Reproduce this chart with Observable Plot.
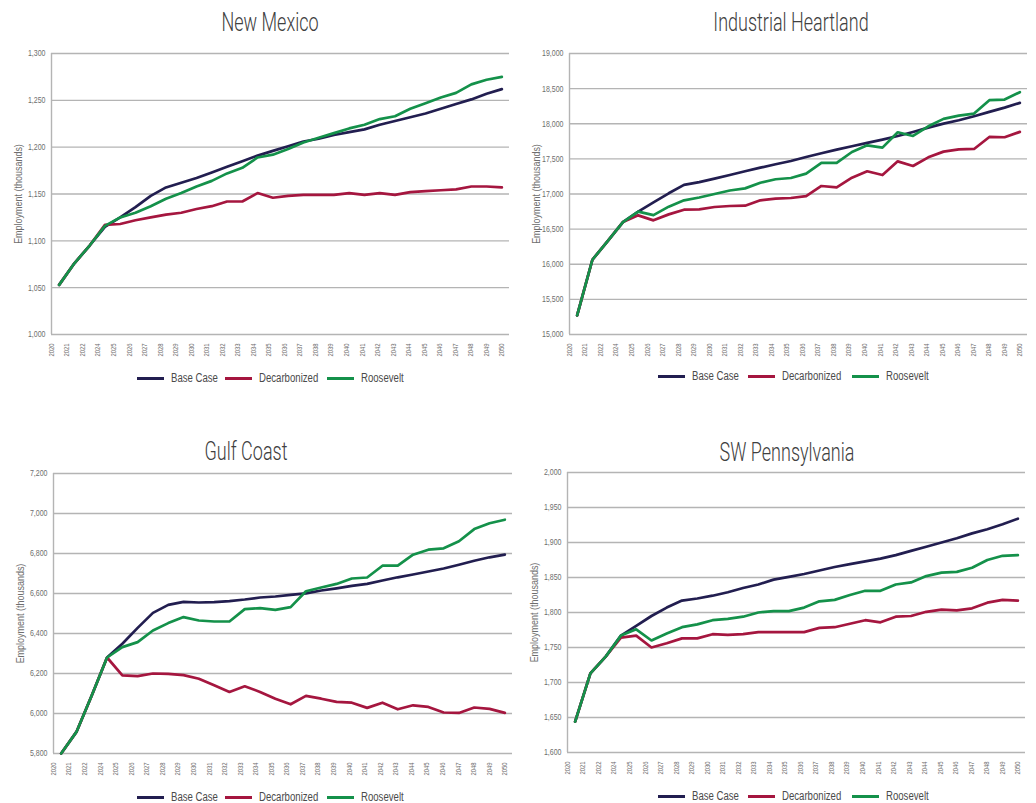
<!DOCTYPE html>
<html>
<head>
<meta charset="utf-8">
<script src="https://cdn.jsdelivr.net/npm/d3@7"></script>
<script src="https://cdn.jsdelivr.net/npm/@observablehq/plot@0.6"></script>
<style>
  body { margin: 0; background: #fff; }
  #root { position: relative; width: 1036px; height: 803px; overflow: hidden;
          font-family: "Liberation Sans", Arial, sans-serif; }
  .title { position: absolute; font-family: Roboto, "Liberation Sans", sans-serif; font-weight: 300;
           font-size: 25px; line-height: 25px; color: #404040;
           white-space: nowrap; transform: translateX(-50%) scaleX(0.72); }
  .panel { position: absolute; }
  .leg { position: absolute; display: flex; align-items: center;
         line-height: 14px; white-space: nowrap; transform: translateY(-50%); }
  .leg i { display: inline-block; width: 27px; height: 3px; margin-right: 7px; }
  .leg span { display: inline-block; font-size: 12px; color: #4a4a4a;
              transform: scaleX(0.8); transform-origin: left center; }
</style>
</head>
<body>
<div id="root"></div>
<script>
// Category labels along the x axis (the source table has no 2023 label)
const years = ["2020","2021","2022","2024","2025","2026","2027","2028","2029","2030",
               "2031","2032","2033","2034","2035","2036","2037","2038","2039","2040",
               "2041","2042","2043","2044","2045","2046","2047","2048","2049","2050"];

const series = ["Base Case", "Decarbonized", "Roosevelt"];
const seriesColors = ["#221e50", "#a5163f", "#14914a"];

// Employment (thousands) by scenario
const nmBase = [1053,1076,1095,1115,1125,1136,1148,1157,1162,1167,1173,1179,1185,1191,1196,1201,1206,1209,1213,1216,1219,1224,1228,1232,1236,1241,1246,1251,1257,1262];
const nmDecarb = [1053,1076,1095,1117,1118,1122,1125,1128,1130,1134,1137,1142,1142,1151,1146,1148,1149,1149,1149,1151,1149,1151,1149,1152,1153,1154,1155,1158,1158,1157];
const nmRoosevelt = [1053,1076,1095,1116,1125,1130,1137,1145,1151,1158,1164,1172,1178,1189,1192,1198,1205,1210,1215,1220,1224,1230,1233,1241,1247,1253,1258,1267,1272,1275];

const ihBase = [15271,16064,16330,16600,16750,16880,17010,17130,17170,17218,17270,17323,17375,17423,17470,17527,17580,17632,17679,17727,17774,17826,17883,17945,18002,18050,18107,18169,18230,18297];
const ihDecarb = [15271,16064,16330,16600,16696,16625,16710,16777,16781,16815,16829,16834,16910,16933,16943,16971,17114,17095,17233,17323,17270,17465,17399,17522,17603,17636,17641,17812,17808,17884];
const ihRoosevelt = [15271,16064,16330,16600,16750,16700,16820,16910,16950,17000,17050,17080,17160,17210,17228,17290,17442,17442,17598,17693,17660,17879,17826,17964,18069,18116,18145,18335,18344,18449];

const gcBase = [5800,5908,6090,6280,6349,6428,6503,6543,6558,6555,6557,6562,6570,6580,6585,6593,6601,6615,6626,6638,6648,6665,6681,6695,6710,6725,6744,6764,6781,6794];
const gcDecarb = [5800,5908,6090,6280,6191,6187,6200,6198,6192,6174,6141,6108,6136,6108,6074,6046,6088,6074,6058,6054,6028,6054,6021,6041,6033,6005,6003,6030,6023,6003];
const gcRoosevelt = [5800,5908,6090,6280,6332,6357,6415,6452,6482,6465,6460,6460,6522,6527,6518,6532,6611,6630,6648,6675,6680,6739,6739,6794,6819,6826,6861,6922,6951,6969];

const swBase = [1644,1713,1737,1767,1781,1795,1807,1817,1820,1824,1829,1835,1840,1847,1851,1855,1860,1865,1869,1873,1877,1882,1888,1894,1900,1906,1913,1919,1926,1934];
const swDecarb = [1644,1713,1737,1764,1767,1750,1756,1763,1763,1769,1768,1769,1772,1772,1772,1772,1778,1779,1784,1789,1786,1794,1795,1801,1804,1803,1806,1814,1818,1817];
const swRoosevelt = [1644,1713,1737,1767,1776,1760,1770,1779,1783,1789,1791,1794,1800,1802,1802,1807,1816,1818,1825,1831,1831,1840,1843,1852,1857,1858,1864,1875,1881,1882];

// Y tick values per region
const nmTicks = [1000,1050,1100,1150,1200,1250,1300];
const ihTicks = [15000,15500,16000,16500,17000,17500,18000,18500,19000];
const gcTicks = [5800,6000,6200,6400,6600,6800,7000,7200];
const swTicks = [1600,1650,1700,1750,1800,1850,1900,1950,2000];

const yLabel = "Employment (thousands)";
const font = '"Liberation Sans", Arial, sans-serif';
const gridColor = "#b4b4b4";
const textColor = "#6e6e6e";
const condense = 0.78; // horizontal squeeze applied to the chart's svg text

// Panel layout: position of each small multiple on the page
const panels = [
  {title: "New Mexico", values: [nmBase, nmDecarb, nmRoosevelt], ticks: nmTicks,
   left: 0, top: 40, mt: 13, mb: 30, plotH: 281, ml: 51, mr: 9,
   titleX: 270, titleY: 10, legY: 378, legX: [137, 225, 327]},
  {title: "Industrial Heartland", values: [ihBase, ihDecarb, ihRoosevelt], ticks: ihTicks,
   left: 518, top: 40, mt: 13, mb: 30, plotH: 281, ml: 51, mr: 9,
   titleX: 791, titleY: 10, legY: 376, legX: [658, 748, 852]},
  {title: "Gulf Coast", values: [gcBase, gcDecarb, gcRoosevelt], ticks: gcTicks,
   left: 0, top: 460, mt: 13, mb: 30, plotH: 280, ml: 53, mr: 6,
   titleX: 246, titleY: 439, legY: 797, legX: [137, 225, 327]},
  {title: "SW Pennsylvania", values: [swBase, swDecarb, swRoosevelt], ticks: swTicks,
   left: 518, top: 460, mt: 12, mb: 30, plotH: 280, ml: 49, mr: 11,
   titleX: 787, titleY: 440, legY: 796, legX: [658, 748, 852]}
];

const root = document.getElementById("root");
const n = years.length;

// Category labels are spread from the axis origin to the last category
const labelPos = years.map((_, k) => -0.5 + k * (n - 0.5) / (n - 1));
const labelAt = new Map(labelPos.map((p, k) => [p, years[k]]));

for (const p of panels) {
  const rows = series.flatMap((s, k) => p.values[k].map((v, i) => ({i, v, s})));

  const chart = Plot.plot({
    width: 518,
    height: p.mt + p.plotH + p.mb,
    marginLeft: p.ml, marginRight: p.mr, marginTop: p.mt, marginBottom: p.mb,
    x: {type: "linear", domain: [-0.5, n - 0.5], axis: null},
    y: {domain: [p.ticks[0], p.ticks[p.ticks.length - 1]], axis: null},
    color: {domain: series, range: seriesColors},
    style: {fontFamily: font, background: "transparent", overflow: "visible"},
    marks: [
      Plot.gridY(p.ticks, {stroke: gridColor, strokeOpacity: 1, strokeWidth: 1.4}),
      Plot.ruleX([-0.5], {stroke: gridColor, strokeWidth: 1.4}),
      Plot.axisY(p.ticks, {tickSize: 0, tickPadding: 6, tickFormat: d3.format(","),
                           fontSize: 9, fill: textColor, label: null}),
      Plot.axisX(labelPos, {tickSize: 0, tickPadding: 9, tickRotate: -90,
                            tickFormat: (d) => labelAt.get(d), fontSize: 7.5,
                            fill: textColor, label: null}),
      Plot.text([yLabel], {frameAnchor: "left", textAnchor: "middle", rotate: -90, dx: -33,
                           fontSize: 11.5, fill: textColor, text: (d) => d}),
      Plot.line(rows, {x: "i", y: "v", stroke: "s", strokeWidth: 2.7,
                       strokeLinejoin: "round", strokeLinecap: "round"})
    ]
  });
  chart.classList.add("panel");
  chart.style.left = p.left + "px";
  chart.style.top = p.top + "px";
  root.appendChild(chart);

  // narrow the svg labels to a condensed look
  chart.querySelectorAll("text").forEach((el) => {
    const len = el.getComputedTextLength();
    if (len > 0) {
      el.setAttribute("textLength", (len * condense).toFixed(2));
      el.setAttribute("lengthAdjust", "spacingAndGlyphs");
    }
  });

  const t = document.createElement("div");
  t.className = "title";
  t.textContent = p.title;
  t.style.left = p.titleX + "px";
  t.style.top = p.titleY + "px";
  root.appendChild(t);

  series.forEach((s, k) => {
    const item = document.createElement("div");
    item.className = "leg";
    item.style.left = p.legX[k] + "px";
    item.style.top = p.legY + "px";
    const sw = document.createElement("i");
    sw.style.background = seriesColors[k];
    const label = document.createElement("span");
    label.textContent = s;
    item.appendChild(sw);
    item.appendChild(label);
    root.appendChild(item);
  });
}
</script>
</body>
</html>
